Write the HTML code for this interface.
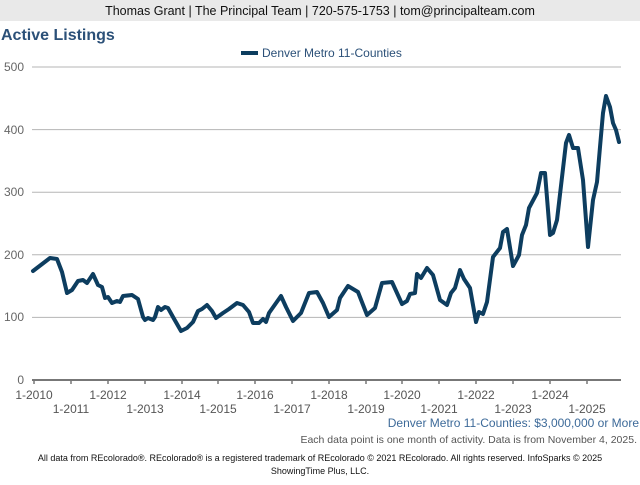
<!DOCTYPE html>
<html><head><meta charset="utf-8"><style>
body{margin:0;width:640px;height:480px;background:#fff;overflow:hidden;font-family:"Liberation Sans",sans-serif;}
</style></head><body>
<svg width="640" height="480" xmlns="http://www.w3.org/2000/svg" font-family="Liberation Sans, sans-serif">
<rect x="0" y="0" width="640" height="21" fill="#e9e9e9"/>
<text x="320" y="15" font-size="12.5" text-anchor="middle" fill="#111">Thomas Grant | The Principal Team | 720-575-1753 | tom@principalteam.com</text>
<text x="1" y="40" font-size="16" font-weight="bold" fill="#2b5078">Active Listings</text>
<rect x="241" y="51" width="17" height="4" fill="#0d3d5f"/>
<text x="262" y="57" font-size="12" fill="#2b5078">Denver Metro 11-Counties</text>
<g stroke="#b5b5b5" stroke-width="1">
<line x1="32" y1="67" x2="621" y2="67"/>
<line x1="32" y1="129.6" x2="621" y2="129.6"/>
<line x1="32" y1="192.2" x2="621" y2="192.2"/>
<line x1="32" y1="254.8" x2="621" y2="254.8"/>
<line x1="32" y1="317.4" x2="621" y2="317.4"/>
</g>
<g font-size="12" fill="#666" text-anchor="end">
<text x="24" y="71">500</text><text x="24" y="134">400</text><text x="24" y="196">300</text><text x="24" y="259">200</text><text x="24" y="321">100</text><text x="24" y="384">0</text>
</g>
<line x1="32" y1="380" x2="621" y2="380" stroke="#777" stroke-width="2"/>
<g stroke="#777" stroke-width="1.5">
<line x1="34" y1="380" x2="34" y2="384"/><line x1="71" y1="380" x2="71" y2="384"/><line x1="108" y1="380" x2="108" y2="384"/><line x1="145" y1="380" x2="145" y2="384"/><line x1="182" y1="380" x2="182" y2="384"/><line x1="218" y1="380" x2="218" y2="384"/><line x1="255" y1="380" x2="255" y2="384"/><line x1="292" y1="380" x2="292" y2="384"/><line x1="329" y1="380" x2="329" y2="384"/><line x1="366" y1="380" x2="366" y2="384"/><line x1="402" y1="380" x2="402" y2="384"/><line x1="439" y1="380" x2="439" y2="384"/><line x1="476" y1="380" x2="476" y2="384"/><line x1="513" y1="380" x2="513" y2="384"/><line x1="550" y1="380" x2="550" y2="384"/><line x1="587" y1="380" x2="587" y2="384"/>
</g>
<g font-size="12" fill="#555" text-anchor="middle">
<text x="34" y="399">1-2010</text><text x="108" y="399">1-2012</text><text x="182" y="399">1-2014</text><text x="255" y="399">1-2016</text><text x="329" y="399">1-2018</text><text x="402" y="399">1-2020</text><text x="476" y="399">1-2022</text><text x="550" y="399">1-2024</text>
<text x="71" y="413">1-2011</text><text x="145" y="413">1-2013</text><text x="218" y="413">1-2015</text><text x="292" y="413">1-2017</text><text x="366" y="413">1-2019</text><text x="439" y="413">1-2021</text><text x="513" y="413">1-2023</text><text x="587" y="413">1-2025</text>
</g>
<polyline fill="none" stroke="#0d3d5f" stroke-width="4" stroke-linejoin="round" stroke-linecap="round" points="33,271 50,258 57,259 62,272 67,293 72,290 78,281 83,280 87,283 93,274 98,285 102,287 105,298 108,297 112,303 117,301 120,302 123,296 132,295 138,299 143,317 145,320 148,318 153,320 155,317 158,307 161,310 165,307 168,308 173,317 181,331 187,328 193,322 198,311 202,309 207,305 212,311 216,318 223,313 229,309 237,303 243,305 249,312 253,323 259,323 263,319 266,322 269,313 281,296 286,307 293,321 301,313 309,293 317,292 323,303 329,317 337,310 340,298 348,286 358,292 367,315 375,308 382,283 392,282 402,304 407,301 410,294 415,293 417,274 421,278 427,268 433,275 440,300 447,305 451,293 455,288 460,270 464,279 470,288 476,322 479,312 483,314 487,302 493,257 500,248 503,232 507,229 513,266 519,255 522,235 526,225 529,208 537,193 541,173 545,173 550,235 553,233 557,220 566,143 569,135 573,148 578,148 583,180 588,247 593,200 597,182 600,147 603,113 606,96 610,107 613,123 616,130 619,142"/>
<text x="639" y="427" font-size="12" fill="#3d6a99" text-anchor="end">Denver Metro 11-Counties: $3,000,000 or More</text>
<text x="637" y="443" font-size="10.5" fill="#555" text-anchor="end">Each data point is one month of activity. Data is from November 4, 2025.</text>
<text x="320" y="461" font-size="9" fill="#111" text-anchor="middle">All data from REcolorado®. REcolorado® is a registered trademark of REcolorado © 2021 REcolorado. All rights reserved. InfoSparks © 2025</text>
<text x="320" y="474" font-size="9" fill="#111" text-anchor="middle">ShowingTime Plus, LLC.</text>
</svg>
</body></html>
